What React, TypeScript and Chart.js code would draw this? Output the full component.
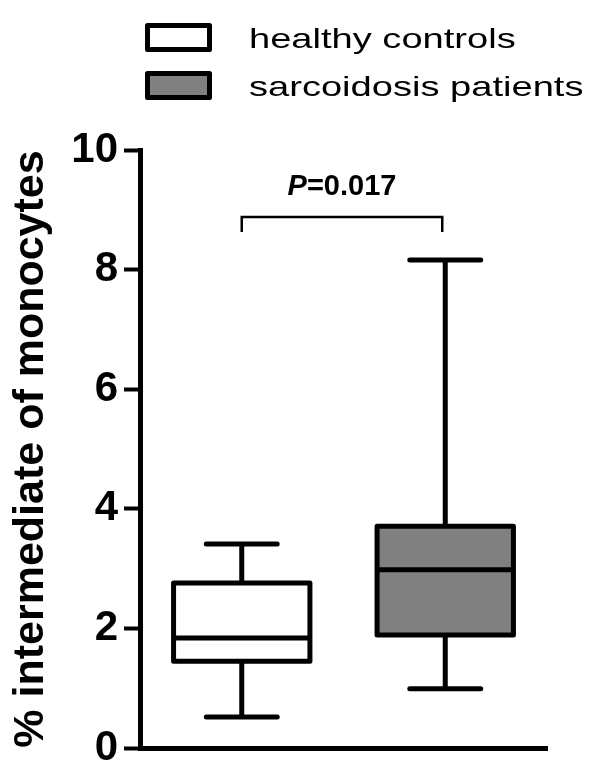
import React, { useEffect, useRef } from "react";
import { Chart, registerables } from "chart.js";

Chart.register(...registerables);

const groups = ["healthy controls", "sarcoidosis patients"];
const groupFills = ["#ffffff", "#808080"];
const whiskerMin = [0.52, 0.99];
const q1 = [1.45, 1.89];
const median = [1.84, 2.98];
const q3 = [2.76, 3.71];
const whiskerMax = [3.41, 8.16];
const yTicks = [0, 2, 4, 6, 8, 10];
const yTitle = "% intermediate of monocytes";
const pLabelItalic = "P";
const pLabelRest = "=0.017";
const bracketValue = 8.88;
const bracketTickValue = 8.63;

const FONT = "'Liberation Sans', Arial, sans-serif";

const boxPlugin = {
  id: "boxplotDraw",
  afterDatasetsDraw(chart: any) {
    const ctx = chart.ctx;
    const ys = chart.scales.y;
    const meta = chart.getDatasetMeta(0);
    ctx.save();
    ctx.strokeStyle = "#000";
    meta.data.forEach((bar: any, i: number) => {
      const { x, width } = bar.getProps(["x", "width"], true);
      const left = x - width / 2;
      const right = x + width / 2;
      const yMin = ys.getPixelForValue(whiskerMin[i]);
      const yQ1 = ys.getPixelForValue(q1[i]);
      const yMed = ys.getPixelForValue(median[i]);
      const yQ3 = ys.getPixelForValue(q3[i]);
      const yMax = ys.getPixelForValue(whiskerMax[i]);
      const cap = width * 0.26;
      ctx.lineWidth = 5;
      ctx.lineCap = "butt";
      ctx.beginPath();
      ctx.moveTo(x, yQ3);
      ctx.lineTo(x, yMax);
      ctx.moveTo(x, yQ1);
      ctx.lineTo(x, yMin);
      ctx.stroke();
      ctx.lineCap = "round";
      ctx.beginPath();
      ctx.moveTo(x - cap, yMax);
      ctx.lineTo(x + cap, yMax);
      ctx.moveTo(x - cap, yMin);
      ctx.lineTo(x + cap, yMin);
      ctx.stroke();
      ctx.lineJoin = "round";
      ctx.lineWidth = 5;
      ctx.strokeRect(left, yQ3, right - left, yQ1 - yQ3);
      ctx.lineCap = "butt";
      ctx.beginPath();
      ctx.moveTo(left, yMed);
      ctx.lineTo(right, yMed);
      ctx.stroke();
    });

    const xs = chart.scales.x;
    const x0 = xs.getPixelForValue(0);
    const x1 = xs.getPixelForValue(1) - 3;
    const yb = ys.getPixelForValue(bracketValue);
    const yt = ys.getPixelForValue(bracketTickValue);
    ctx.lineWidth = 2.5;
    ctx.lineCap = "butt";
    ctx.lineJoin = "miter";
    ctx.beginPath();
    ctx.moveTo(x0, yt);
    ctx.lineTo(x0, yb);
    ctx.lineTo(x1, yb);
    ctx.lineTo(x1, yt);
    ctx.stroke();

    ctx.fillStyle = "#000";
    ctx.textBaseline = "alphabetic";
    ctx.textAlign = "left";
    const fi = `italic bold 29px ${FONT}`;
    const fr = `bold 29px ${FONT}`;
    ctx.font = fi;
    const wi = ctx.measureText(pLabelItalic).width;
    ctx.font = fr;
    const wr = ctx.measureText(pLabelRest).width;
    const cx = (x0 + x1) / 2;
    const startX = cx - (wi + wr) / 2;
    const baseY = yb - 22;
    ctx.font = fi;
    ctx.fillText(pLabelItalic, startX, baseY);
    ctx.font = fr;
    ctx.fillText(pLabelRest, startX + wi, baseY);
    ctx.restore();
  },
  afterDraw(chart: any) {
    const ctx = chart.ctx;
    ctx.save();
    groups.forEach((name, i) => {
      const top = 25.5 + i * 48;
      ctx.fillStyle = groupFills[i];
      ctx.fillRect(147.5, top, 62, 24);
      ctx.strokeStyle = "#000";
      ctx.lineWidth = 5;
      ctx.lineJoin = "round";
      ctx.strokeRect(147.5, top, 62, 24);
      ctx.fillStyle = "#000";
      ctx.font = `28px ${FONT}`;
      ctx.textBaseline = "alphabetic";
      ctx.textAlign = "left";
      ctx.save();
      ctx.translate(249, top + 22);
      ctx.scale(1.36, 1);
      ctx.fillText(name, 0, 0);
      ctx.restore();
    });
    ctx.restore();
  },
};

export default function App() {
  const ref = useRef<HTMLCanvasElement | null>(null);
  useEffect(() => {
    if (!ref.current) return;
    const chart = new Chart(ref.current, {
      type: "bar",
      data: {
        labels: groups,
        datasets: [
          {
            label: "box",
            data: groups.map((_, i) => [q1[i], q3[i]]) as any,
            backgroundColor: groupFills,
            borderWidth: 0,
            barPercentage: 0.67,
            categoryPercentage: 1,
          },
        ],
      },
      options: {
        responsive: false,
        animation: false,
        layout: { padding: { top: 150, right: 53, bottom: 0, left: 0 } },
        plugins: {
          legend: { display: false },
          tooltip: { enabled: false },
        },
        scales: {
          x: {
            offset: true,
            ticks: { display: false },
            grid: { display: false },
            border: { display: true, width: 5, color: "#000" },
            afterFit(scale: any) {
              scale.height = 28;
            },
          },
          y: {
            min: 0,
            max: 10,
            afterBuildTicks(scale: any) {
              scale.ticks = yTicks.map((v) => ({ value: v }));
            },
            ticks: {
              color: "#000",
              font: { family: FONT, size: 42, weight: "bold", lineHeight: 1 },
              padding: 6,
            },
            grid: {
              display: true,
              drawOnChartArea: false,
              drawTicks: true,
              tickLength: 16,
              tickWidth: 4,
              tickColor: "#000",
            },
            border: { display: true, width: 5, color: "#000" },
            title: {
              display: true,
              text: yTitle,
              color: "#000",
              font: { family: FONT, size: 43, weight: "bold" },
              padding: { top: 5, bottom: 0 },
            },
            afterFit(scale: any) {
              scale.width = 140;
            },
          },
        },
      },
      plugins: [boxPlugin],
    });
    return () => chart.destroy();
  }, []);
  return (
    <div style={{ position: "absolute", left: 0, top: 0, width: 600, height: 776, background: "#fff" }}>
      <canvas ref={ref} width={600} height={776} style={{ display: "block" }} />
    </div>
  );
}
